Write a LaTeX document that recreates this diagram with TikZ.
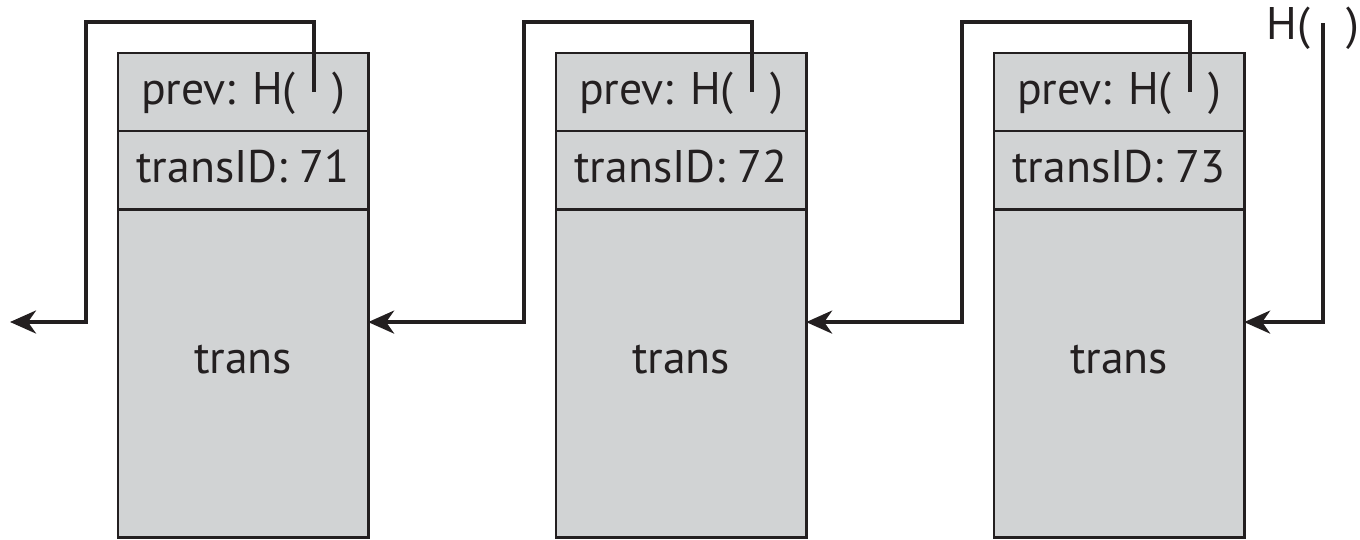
\documentclass[tikz,border=0pt]{standalone}
\usepackage{fontspec}
\setmainfont{PT Sans}
\usetikzlibrary{arrows.meta, positioning, calc}
\definecolor{cellc}{RGB}{209,211,212}
\definecolor{inkc}{RGB}{35,31,32}
\tikzset{
  cell/.style={draw=inkc, line width=0.8pt, fill=cellc, text=inkc, inner sep=0pt,
    outer sep=0pt, minimum width=2.5cm, minimum height=0.78cm,
    text height=0.7em, text depth=0pt, font=\fontsize{13}{15}\selectfont},
  hashptr/.style={draw=inkc, line width=1.05pt,
    -{Stealth[length=2.6mm, width=2.3mm, inset=0.8mm]}},
}

\begin{document}
\begin{tikzpicture}[x=0.01cm, y=-0.01cm]
  \useasboundingbox (0,0) rectangle (1360,539);
  \foreach \i/\x in {1/118, 2/556, 3/994} {
    \node[cell, anchor=north west] (prev\i) at (\x,53) {prev: H(\hspace{0.8em})};
    \node[cell, below=0pt of prev\i] (id\i) {transID: 7\i};
    \node[cell, below=0pt of id\i, minimum height=3.28cm, text height=0pt] (body\i) {trans};
    \coordinate (hole\i) at ($(prev\i.north west)+(196,39)$);
    \coordinate (in\i) at ($(body\i.north east)+(0,113)$);
  }
  \coordinate (in0) at (10,322);
  \node[anchor=base west, inner sep=0pt, text=inkc, font=\fontsize{13}{15}\selectfont]
    (head) at (1266,39) {H(\hspace{0.8em})};
  \coordinate (headptr) at ($(head.base west)+(57,-16)$);

  \foreach \i/\j in {1/0, 2/1, 3/2}
    \draw[hashptr] (hole\i) |- ++(-228,-70) |- (in\j);
  \draw[hashptr] (headptr) |- (in3);
\end{tikzpicture}
\end{document}
